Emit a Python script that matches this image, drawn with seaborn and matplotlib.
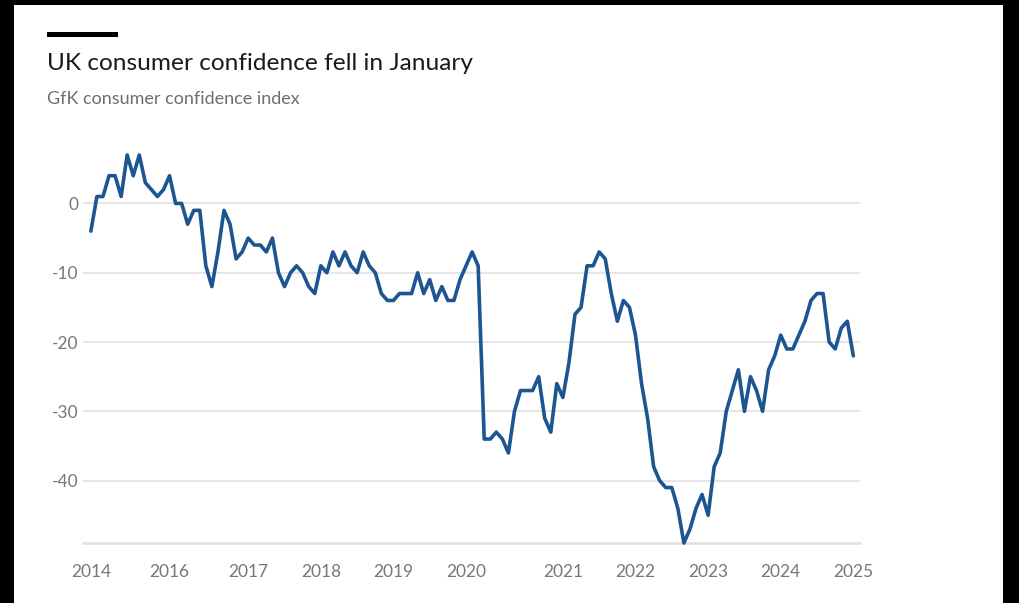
import matplotlib
matplotlib.use("Agg")
import matplotlib.pyplot as plt
import seaborn as sns
import pandas as pd
from matplotlib.patches import Rectangle

# GfK consumer confidence index, one value per period
values = [
    -4, 1, 1, 4, 4, 1, 7, 4, 7, 3, 2, 1, 2,
    4, 0, 0, -3, -1, -1, -9, -12, -7, -1, -3, -8, -7,
    -5, -6, -6, -7, -5, -10, -12, -10, -9, -10, -12, -13,
    -9, -10, -7, -9, -7, -9, -10, -7, -9, -10, -13, -14,
    -14, -13, -13, -13, -10, -13, -11, -14, -12, -14, -14, -11,
    -9, -7, -9, -34, -34, -33, -34, -36, -30, -27, -27, -27, -25, -31, -33, -26,
    -28, -23, -16, -15, -9, -9, -7, -8, -13, -17, -14, -15,
    -19, -26, -31, -38, -40, -41, -41, -44, -49, -47, -44, -42,
    -45, -38, -36, -30, -27, -24, -30, -25, -27, -30, -24, -22,
    -19, -21, -21, -19, -17, -14, -13, -13, -20, -21, -18, -17,
    -22,
]
year_labels = ["2014", "2016", "2017", "2018", "2019", "2020",
               "2021", "2022", "2023", "2024", "2025"]
year_start_period = [0, 13, 26, 38, 50, 62, 78, 90, 102, 114, 126]
quarter_period = [1, 4, 7, 10, 16, 20, 23, 29, 32, 35, 41, 44, 47, 53, 56, 59,
                  66, 72, 75, 81, 84, 87, 93, 96, 99, 105, 108, 111, 117, 120, 123]
y_ticks = [0, -10, -20, -30, -40]
y_labels = ["0", "-10", "-20", "-30", "-40"]

title = "UK consumer confidence fell in January"
subtitle = "GfK consumer confidence index"

sns.set_theme(style="white")
plt.rcParams['font.family'] = ['Lato', 'DejaVu Sans']

W, H = 1020, 603
fig = plt.figure(figsize=(W / 100, H / 100), dpi=100)
fig.patch.set_facecolor("white")

ax = fig.add_axes([83 / W, 1 - 543 / H, (860 - 83) / W, (543 - 148) / H])
df = pd.DataFrame({"period": range(len(values)), "index": values})
sns.lineplot(data=df, x="period", y="index", ax=ax, color="#1d5592",
             linewidth=2.6, zorder=5, clip_on=False)

ax.set_xlim(-1.3, 127.1)
ax.set_ylim(-49, 8)
ax.set_xlabel("")
ax.set_ylabel("")

ax.set_yticks(y_ticks)
ax.set_yticklabels(y_labels)
ax.set_xticks(year_start_period)
ax.set_xticklabels(year_labels)
ax.set_xticks(quarter_period, minor=True)

ax.yaxis.grid(True, color="#e6e6e6", linewidth=1.4)
ax.xaxis.grid(False)
ax.set_axisbelow(True)

for s in ["left", "top", "right"]:
    ax.spines[s].set_visible(False)
ax.spines["bottom"].set_color("#e2e2e2")
ax.spines["bottom"].set_linewidth(2)

ax.tick_params(axis="y", length=0, pad=3, labelsize=12.5, labelcolor="#777777")
ax.tick_params(axis="x", which="major", length=9, width=1, color="#d4d4d4",
               pad=6, labelsize=12.5, labelcolor="#777777")
ax.tick_params(axis="x", which="minor", length=6, width=1, color="#d4d4d4")

# header
fig.add_artist(Rectangle((47 / W, 1 - 37 / H), (118 - 47) / W, 5 / H,
                         transform=fig.transFigure, color="black", lw=0))
fig.text(47 / W, 1 - 70 / H, title, fontsize=17.6, color="#1a1a1a", va="baseline", ha="left")
fig.text(47 / W, 1 - 104 / H, subtitle, fontsize=13, color="#6e6e6e", va="baseline", ha="left")

# dark frame around the screenshot
fig.add_artist(Rectangle((0, 1 - 5 / H), 1, 5 / H, transform=fig.transFigure, color="black", lw=0))
fig.add_artist(Rectangle((0, 0), 14 / W, 1, transform=fig.transFigure, color="black", lw=0))
fig.add_artist(Rectangle((1003 / W, 0), 1 - 1003 / W, 1, transform=fig.transFigure, color="black", lw=0))

fig.savefig("out.png", dpi=100, facecolor="white")
